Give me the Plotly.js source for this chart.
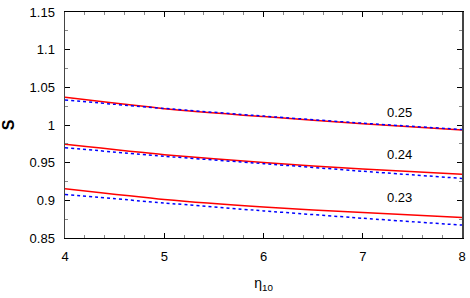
<!DOCTYPE html>
<html>
<head>
<meta charset="utf-8">
<script src="https://cdn.plot.ly/plotly-3.0.1.min.js"></script>
<style>html,body{margin:0;padding:0;background:#fff;}#chart{width:470px;height:298px;}</style>
</head>
<body>
<div id="chart"></div>
<script>
const eta = [4, 5, 6, 7, 8];
const red025 = [1.0367, 1.0217, 1.0112, 1.0018, 0.9933];
const blue025 = [1.0331, 1.0220, 1.0118, 1.0024, 0.9940];
const red024 = [0.9743, 0.9605, 0.9502, 0.9415, 0.9345];
const blue024 = [0.9698, 0.9585, 0.9487, 0.9386, 0.9291];
const red023 = [0.9154, 0.9012, 0.8912, 0.8837, 0.8773];
const blue023 = [0.9079, 0.8965, 0.8860, 0.8762, 0.8671];
const labelText = ['0.25', '0.24', '0.23'];
const labelX = [7.375, 7.375, 7.375];
const labelY = [1.0172, 0.9614, 0.9043];

const redLine = {color: '#ff0000', width: 1.5, shape: 'spline', smoothing: 0.6};
const blueLine = {color: '#0000ff', width: 1.5, dash: 'dot', shape: 'spline', smoothing: 0.6};
const traces = [
  {x: eta, y: red025, mode: 'lines', line: redLine},
  {x: eta, y: blue025, mode: 'lines', line: blueLine},
  {x: eta, y: red024, mode: 'lines', line: redLine},
  {x: eta, y: blue024, mode: 'lines', line: blueLine},
  {x: eta, y: red023, mode: 'lines', line: redLine},
  {x: eta, y: blue023, mode: 'lines', line: blueLine}
];

const fam = 'Liberation Sans, Arial, sans-serif';
const layout = {
  width: 470, height: 298,
  margin: {l: 65, r: 8, t: 12, b: 60},
  showlegend: false,
  paper_bgcolor: '#fff', plot_bgcolor: '#fff',
  font: {family: fam, size: 13, color: '#000'},
  xaxis: {
    range: [4, 8], tickvals: [4, 5, 6, 7, 8], ticktext: ['4', '5', '6', '7', '8'],
    ticks: 'inside', ticklen: 5, tickcolor: '#000', showgrid: false, zeroline: false,
    showline: true, linecolor: '#000', linewidth: 1, mirror: 'allticks',
    minor: {dtick: 0.2, tick0: 4, ticks: 'inside', ticklen: 3, tickcolor: '#888', showgrid: false},
    ticklabelstandoff: 6,
    title: {text: 'η<sub>10</sub>', font: {family: fam, size: 14}, standoff: 15}
  },
  yaxis: {
    range: [0.85, 1.15], tickvals: [0.85, 0.9, 0.95, 1, 1.05, 1.1, 1.15],
    ticktext: ['0.85', '0.9', '0.95', '1', '1.05', '1.1', '1.15'],
    ticks: 'inside', ticklen: 5, tickcolor: '#000', showgrid: false, zeroline: false,
    showline: true, linecolor: '#444', linewidth: 1.5, mirror: 'allticks',
    minor: {dtick: 0.025, tick0: 0.85, ticks: 'inside', ticklen: 3, tickcolor: '#888', showgrid: false},
    ticklabelstandoff: 6,
    title: {text: '<b>S</b>', font: {family: fam, size: 16}, standoff: 22}
  },
  annotations: labelText.map((t, i) => ({
    x: labelX[i], y: labelY[i], xref: 'x', yref: 'y', text: t, showarrow: false,
    font: {family: fam, size: 13, color: '#000'}
  }))
};
Plotly.newPlot('chart', traces, layout, {staticPlot: true, displayModeBar: false});
</script>
</body>
</html>
